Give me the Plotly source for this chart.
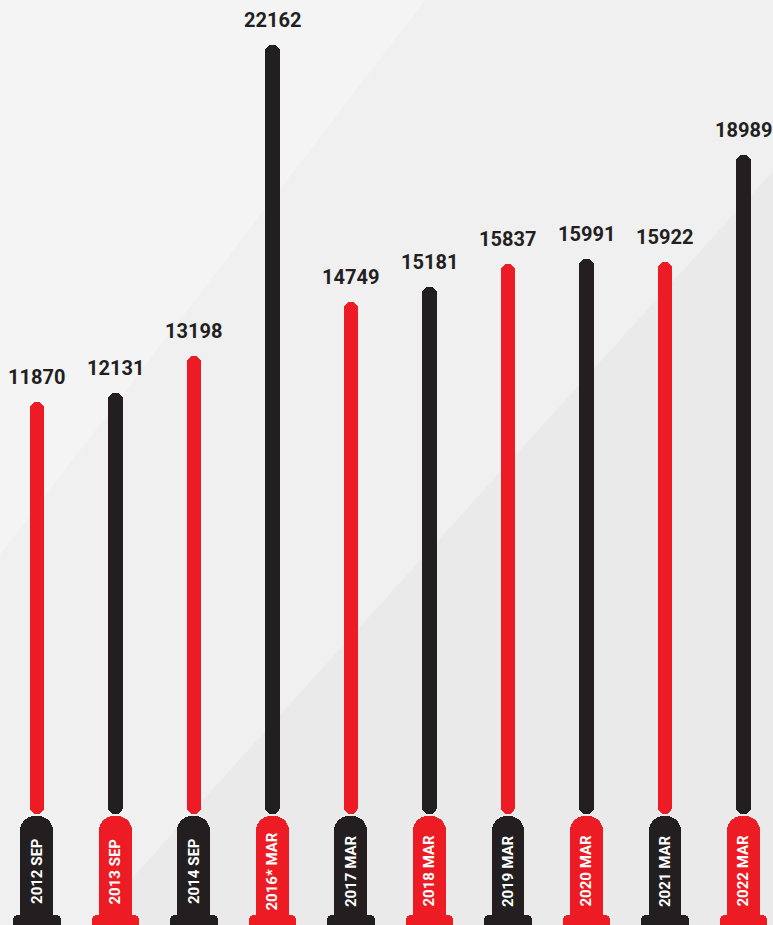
import plotly.graph_objects as go

# ---- data ----
categories = ["2012 SEP", "2013 SEP", "2014 SEP", "2016* MAR", "2017 MAR",
              "2018 MAR", "2019 MAR", "2020 MAR", "2021 MAR", "2022 MAR"]
values = [11870, 12131, 13198, 22162, 14749, 15181, 15837, 15991, 15922, 18989]

# ---- style ----
RED = "#ED1C24"
BLACK = "#231F20"
FONT = "Roboto, Liberation Sans, sans-serif"

Y_MIN, Y_MAX = -3199, 23459
TAB_TOP = -60
FOOT_TOP = -2911
LABEL_Y = -1643

x = list(range(len(categories)))
stem_colors = [RED if i % 2 == 0 else BLACK for i in x]
tab_colors = [BLACK if i % 2 == 0 else RED for i in x]

fig = go.Figure()

# stems
fig.add_trace(go.Bar(
    x=x, y=values, base=0, width=0.19,
    marker=dict(color=stem_colors, line=dict(width=0), cornerradius="50%"),
    hoverinfo="skip", showlegend=False,
))
# tabs
fig.add_trace(go.Bar(
    x=x, y=[TAB_TOP - (Y_MIN - 400)] * len(x), base=Y_MIN - 400, width=0.42,
    marker=dict(color=tab_colors, line=dict(width=0), cornerradius=15),
    hoverinfo="skip", showlegend=False,
))
# feet
fig.add_trace(go.Bar(
    x=x, y=[FOOT_TOP - (Y_MIN - 400)] * len(x), base=Y_MIN - 400, width=0.60,
    marker=dict(color=tab_colors, line=dict(width=0), cornerradius=5),
    hoverinfo="skip", showlegend=False,
))

annotations = []
for i, (c, v) in enumerate(zip(categories, values)):
    annotations.append(dict(
        x=i, y=v, xref="x", yref="y", text=f"<b>{v}</b>", showarrow=False,
        yanchor="bottom", yshift=11,
        font=dict(family=FONT, size=20, color=BLACK),
    ))
    annotations.append(dict(
        x=i, y=LABEL_Y, xref="x", yref="y", text=f"<b>{c}</b>", showarrow=False,
        textangle=-90, font=dict(family=FONT, size=15, color="white"),
    ))

shapes = [
    # lighter upper-left area above the diagonal
    dict(type="path", xref="paper", yref="paper", layer="below",
         path="M 0 0 L 0.116 0 L 1 0.815 L 1 1 L 0 1 Z",
         fillcolor="rgba(255,255,255,0.30)", line=dict(width=0)),
    # soft sheen top-left
    dict(type="path", xref="paper", yref="paper", layer="below",
         path="M 0 1 L 0.55 1 L 0 0.40 Z",
         fillcolor="rgba(255,255,255,0.25)", line=dict(width=0)),
]

fig.update_layout(
    width=773, height=925,
    margin=dict(l=0, r=0, t=0, b=0),
    paper_bgcolor="#EAEAEB", plot_bgcolor="rgba(0,0,0,0)",
    barmode="overlay", bargap=0,
    xaxis=dict(range=[-0.471, 9.376], visible=False, fixedrange=True),
    yaxis=dict(range=[Y_MIN, Y_MAX], visible=False, fixedrange=True),
    annotations=annotations, shapes=shapes,
    showlegend=False,
)

fig.write_html("out.html")
